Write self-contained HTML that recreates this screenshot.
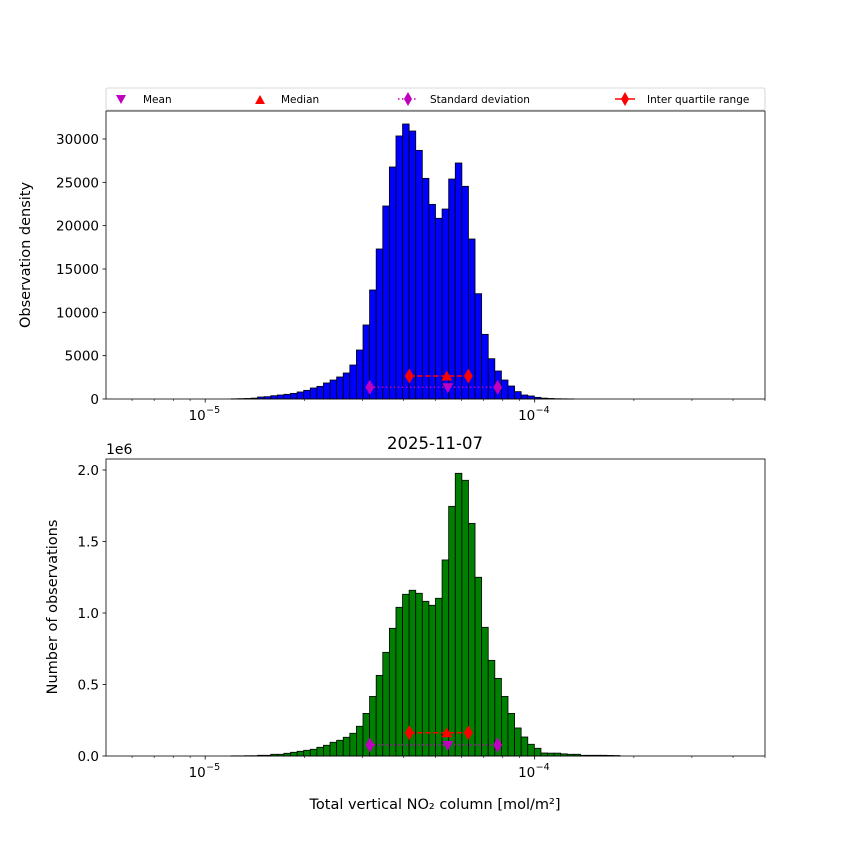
<!DOCTYPE html>
<html><head><meta charset="utf-8">
<style>
body{margin:0;background:#fff;}
svg{display:block;font-family:"DejaVu Sans","Liberation Sans",sans-serif;}
</style></head>
<body>
<svg id="chart" width="850" height="850" viewBox="0 0 850 850" xmlns="http://www.w3.org/2000/svg"></svg>
<script>
// bin index 0..99 over logspace(5e-6, 5e-4); values per bin index
const binStart = 19;
const topCounts = [20,40,60,100,230,270,380,460,540,650,810,1000,1270,1460,1850,2190,2540,3000,3920,5650,8540,12580,17310,22270,26770,30350,31730,30920,28690,25460,22460,20850,21920,25380,27230,24540,18460,12150,7460,4650,3230,2190,1500,850,460,350,190,100,60,30,20,10];
const bottomCounts = [0.001,0.001,0.002,0.002,0.005,0.005,0.012,0.012,0.019,0.026,0.033,0.040,0.047,0.061,0.075,0.096,0.110,0.131,0.159,0.208,0.298,0.417,0.564,0.725,0.893,1.040,1.131,1.159,1.138,1.082,1.054,1.103,1.371,1.746,1.977,1.928,1.627,1.250,0.900,0.669,0.543,0.417,0.298,0.196,0.133,0.082,0.054,0.021,0.020,0.020,0.015,0.012,0.012,0.005,0.005,0.005,0.005,0.004,0.003];
const statX = {mean:5.45e-5, median:5.41e-5, q1:4.164e-5, q3:6.29e-5, sdLo:3.16e-5, sdHi:7.72e-5};
const topStatY = {iqr:2650, sd:1350};
const bottomStatY = {iqr:0.163, sd:0.077};
const topTicks = [0,5000,10000,15000,20000,25000,30000];
const bottomTicks = [0,0.5,1.0,1.5,2.0];
const bottomTickLabels = ["0.0","0.5","1.0","1.5","2.0"];

const NS="http://www.w3.org/2000/svg";
const svg=document.getElementById('chart');
function el(tag,attrs,parent,text){const e=document.createElementNS(NS,tag);for(const k in attrs)e.setAttribute(k,attrs[k]);if(text!==undefined)e.textContent=text;(parent||svg).appendChild(e);return e;}

const X0=106,X1=765, LMIN=Math.log10(5e-6), LMAX=Math.log10(5e-4);
function xs(v){return X0+(Math.log10(v)-LMIN)/(LMAX-LMIN)*(X1-X0);}
function edge(i){return Math.pow(10,LMIN+i*(LMAX-LMIN)/100);}
function diamond(x,y){return `M${x},${y-7.5}L${x+4.5},${y}L${x},${y+7.5}L${x-4.5},${y}Z`;}

function panel(name,yTop,yBot,ymax,counts,color,ticks,tickLabels,statY){
  const g=el('g',{});
  
  
  const ys=v=>yBot-(v/ymax)*(yBot-yTop);
  counts.forEach((c,k)=>{
    const i=binStart+k;
    const xa=xs(edge(i)), xb=xs(edge(i+1));
    const r=el('rect',{x:xa,y:ys(c),width:xb-xa,height:yBot-ys(c),fill:color,stroke:'#000','stroke-width':0.8},g);
    
    
  });
  const sy=ys(statY.sd), iy=ys(statY.iqr);
  const sl=el('line',{x1:xs(statX.sdLo),x2:xs(statX.sdHi),y1:sy,y2:sy,stroke:'#bf00bf','stroke-width':1.5,'stroke-dasharray':'1.5,2.5'},g);
  
  
  [statX.sdLo,statX.sdHi].forEach(v=>{const d=el('path',{d:diamond(xs(v),sy),fill:'#bf00bf'},g);
    
    });
  const mn=el('path',{d:`M${xs(statX.mean)-5.5},${sy-4}L${xs(statX.mean)+5.5},${sy-4}L${xs(statX.mean)},${sy+6}Z`,fill:'#bf00bf'},g);
  
  
  const il=el('line',{x1:xs(statX.q1),x2:xs(statX.q3),y1:iy,y2:iy,stroke:'#ff0000','stroke-width':1.5,'stroke-dasharray':'5.5,2.4'},g);
  
  
  [statX.q1,statX.q3].forEach(v=>{const d=el('path',{d:diamond(xs(v),iy),fill:'#ff0000'},g);
    
    });
  const md=el('path',{d:`M${xs(statX.median)-5.5},${iy+4.5}L${xs(statX.median)+5.5},${iy+4.5}L${xs(statX.median)},${iy-5.5}Z`,fill:'#ff0000'},g);
  
  
  el('rect',{x:X0,y:yTop,width:X1-X0,height:yBot-yTop,fill:'none',stroke:'#000','stroke-width':0.8},g);
  ticks.forEach((t,k)=>{const y=ys(t);
    el('line',{x1:X0-3.5,x2:X0,y1:y,y2:y,stroke:'#000','stroke-width':0.8},g);
    const tx=el('text',{x:X0-7,y:y+5,'text-anchor':'end','font-size':13.5},g,tickLabels[k]);
    
    });
  for(let e=-6;e<=-4;e++){for(let m=1;m<=9;m++){const v=m*Math.pow(10,e);
    if(v<5e-6||v>5e-4)continue;const x=xs(v);
    el('line',{x1:x,x2:x,y1:yBot,y2:yBot+(m===1?3.5:2),stroke:'#000','stroke-width':m===1?0.8:0.6},g);
    if(m===1){const tx=el('text',{x:x-8,y:yBot+21,'text-anchor':'middle','font-size':13.5},g,'10');
      
      
      el('text',{x:x+8,y:yBot+14,'text-anchor':'middle','font-size':9.5},g,'−'+(-e));}
  }}
  return ys;
}
panel('top',111,399,33230,topCounts,'#0000ff',topTicks,topTicks.map(String),topStatY);
panel('bottom',459,756,2.077,bottomCounts,'#008000',bottomTicks,bottomTickLabels,bottomStatY);
</script>
<svg width="850" height="850" style="position:absolute;left:0;top:0" xmlns="http://www.w3.org/2000/svg" font-family="DejaVu Sans, Liberation Sans, sans-serif">
  <g>
    <rect x="106" y="88" width="659" height="22" fill="#fff" stroke="#ccc" stroke-width="0.8" rx="2"/>
    <path d="M116,95 L126,95 L121,104 Z" fill="#bf00bf"/>
    <text x="143" y="103" font-size="10.5">Mean</text>
    <path d="M255,104 L265,104 L260,95 Z" fill="#ff0000"/>
    <text x="281" y="103" font-size="10.5">Median</text>
    <line x1="398" y1="99" x2="418" y2="99" stroke="#bf00bf" stroke-width="1.5" stroke-dasharray="1.5,2.5"/>
    <path d="M408,92 L412,99 L408,106 L404,99 Z" fill="#bf00bf"/>
    <text x="430" y="103" font-size="10.5">Standard deviation</text>
    <line x1="615" y1="99" x2="635" y2="99" stroke="#ff0000" stroke-width="1.5"/>
    <path d="M625,92 L629,99 L625,106 L621,99 Z" fill="#ff0000"/>
    <text x="647" y="103" font-size="10.5">Inter quartile range</text>
  </g>
  <text x="30" y="255" font-size="14.5" text-anchor="middle" transform="rotate(-90 30 255)">Observation density</text>
  <text x="435" y="449" font-size="16.5" text-anchor="middle">2025-11-07</text>
  <text x="106" y="454" font-size="14">1e6</text>
  <text x="57" y="607" font-size="14.5" text-anchor="middle" transform="rotate(-90 57 607)">Number of observations</text>
  <text x="435" y="809" font-size="14.5" text-anchor="middle">Total vertical NO₂ column [mol/m²]</text>
</svg>
</body></html>
